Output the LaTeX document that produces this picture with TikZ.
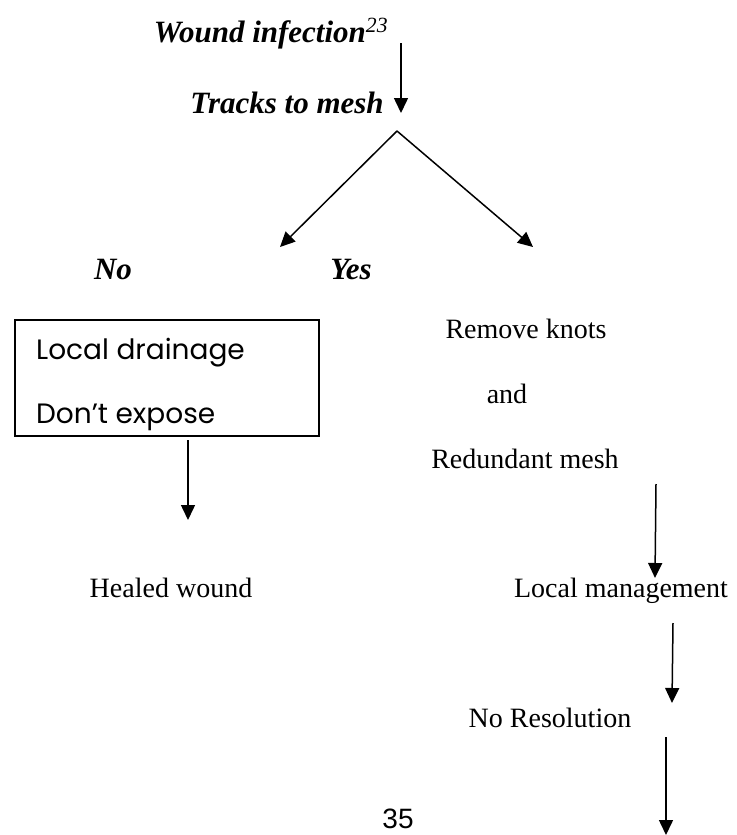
\documentclass[tikz,border=0pt]{standalone}
\usepackage{fontspec}
\setmainfont{Liberation Serif}
\newfontfamily\boxfont{Poppins}
\newfontfamily\pagefont{Liberation Sans}
\usetikzlibrary{arrows.meta}

\begin{document}
\begin{tikzpicture}[x=1pt,y=-1pt,
  lbl/.style={anchor=base, inner sep=0pt, font=\fontsize{28}{30}\selectfont},
  blbl/.style={anchor=base, inner sep=0pt, font=\fontsize{31}{33}\selectfont\bfseries\itshape},
  boxlbl/.style={anchor=base west, inner sep=0pt, font=\fontsize{28}{30}\selectfont\boxfont},
  arr/.style={line width=1.5pt, -{Triangle[width=14pt,length=15pt]}}]
\useasboundingbox (0,0) rectangle (736,835);

% Headings
\node[blbl] (wound) at (271,42) {Wound infection\textsuperscript{\mdseries 23}};
\node[blbl] (tracks) at (287,113) {Tracks to mesh};
\node[blbl] (no) at (113,279) {No};
\node[blbl] (yes) at (351,279) {Yes};

% Left branch
\node[draw, line width=1.5pt, minimum width=304pt, minimum height=116pt, inner sep=0pt, anchor=north west] (drain) at (14,319) {};
\node[boxlbl] (drain1) at (36,359) {Local drainage};
\node[boxlbl] (drain2) at (36,423) {Don’t expose};
\node[lbl] (healed) at (171,597) {Healed wound};

% Right branch
\node[lbl] (remove) at (526,338) {Remove knots};
\node[lbl] (and) at (507,403) {and};
\node[lbl] (redund) at (525,468) {Redundant mesh};
\node[lbl] (localmgmt) at (621,597) {Local management};
\node[lbl] (nores) at (550,727) {No Resolution};

% Page number
\node[anchor=base, inner sep=0pt, font=\fontsize{28}{30}\selectfont\pagefont] (page) at (398,828) {35};

% Arrow ends
\coordinate (a1s) at (401,43);
\coordinate (a1e) at (401,113);
\coordinate (apex) at (397,131);
\coordinate (noend) at (280,247);
\coordinate (yesend) at (533,247);
\coordinate (a2s) at (188,440);
\coordinate (a2e) at (188,520);
\coordinate (a3s) at (656,484);
\coordinate (a3e) at (655,578);
\coordinate (a4s) at (673,623);
\coordinate (a4e) at (672,703);
\coordinate (a5s) at (666,737);
\coordinate (a5e) at (666,835);

% Transitions
\draw[arr] (a1s) -- (a1e);
\draw[arr] (apex) -- (noend);
\draw[arr] (apex) -- (yesend);
\draw[arr] (a2s) -- (a2e);
\draw[arr] (a3s) -- (a3e);
\draw[arr] (a4s) -- (a4e);
\draw[arr] (a5s) -- (a5e);

\end{tikzpicture}
\end{document}
